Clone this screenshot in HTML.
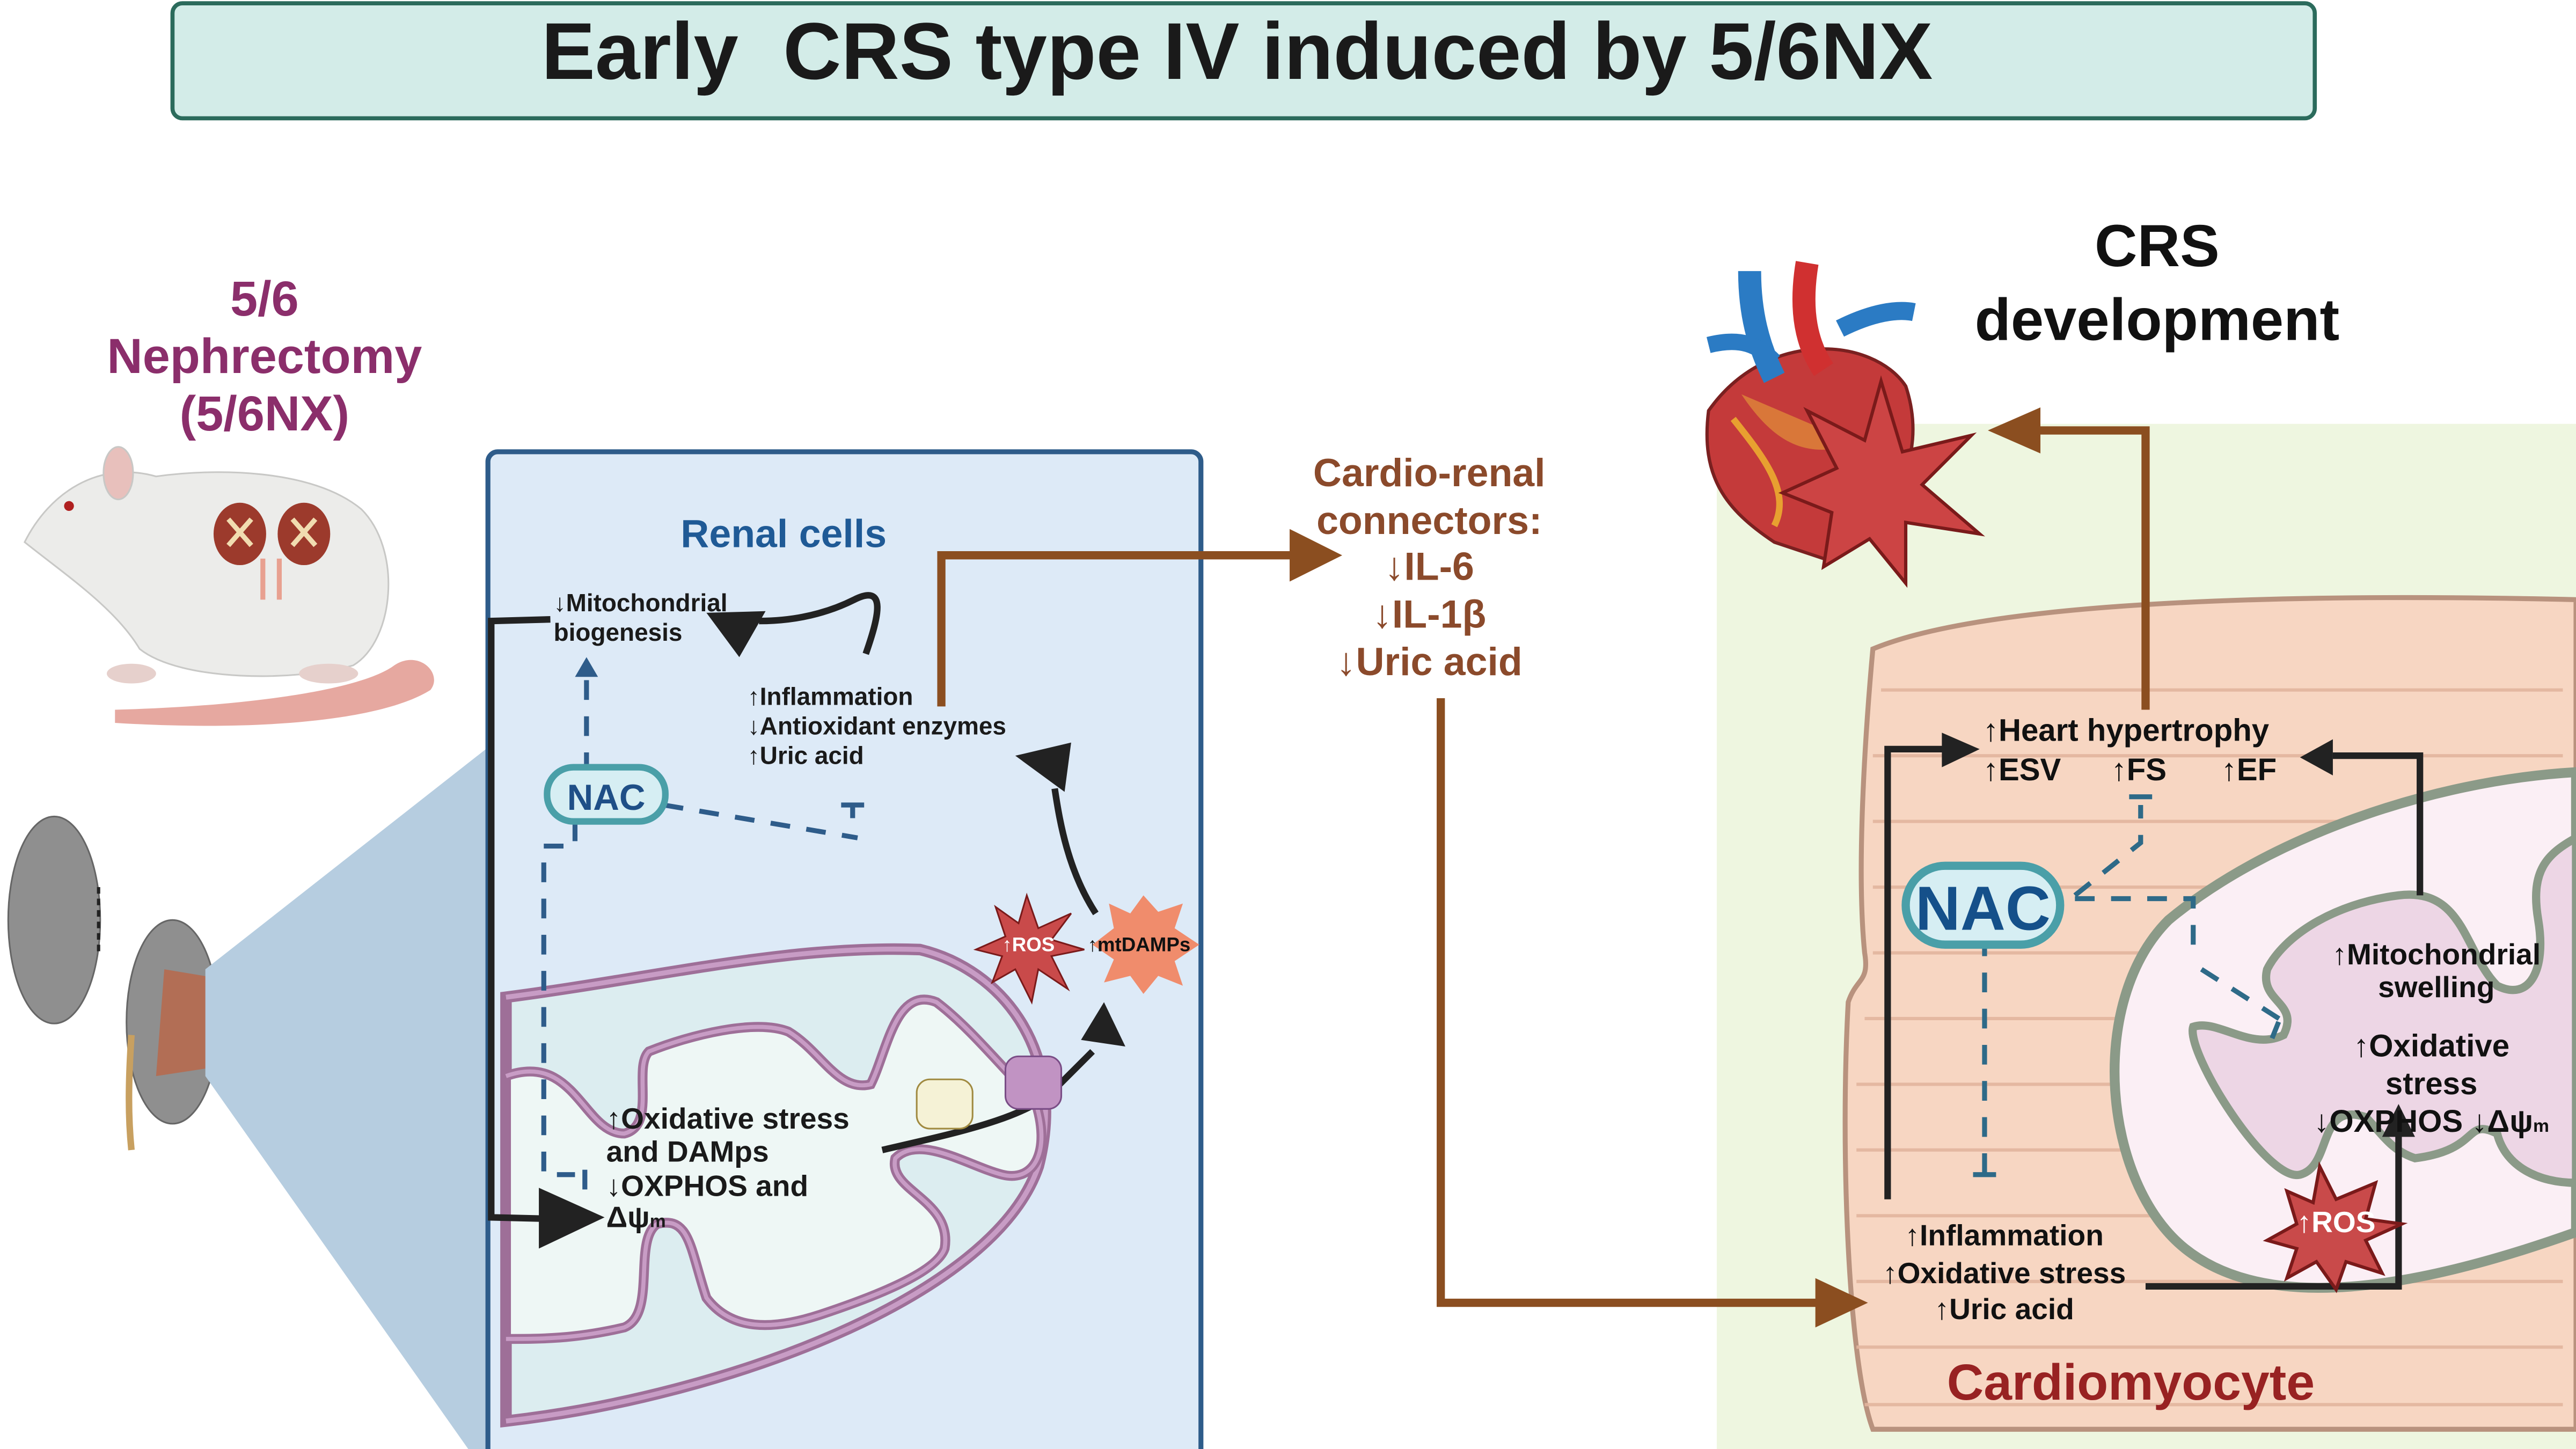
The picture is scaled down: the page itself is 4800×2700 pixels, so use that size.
<!DOCTYPE html>
<html><head><meta charset="utf-8"><style>
html,body{margin:0;padding:0;background:#fff;}
svg{display:block;}
text{font-family:"Liberation Sans",sans-serif;font-weight:bold;}
</style></head><body>
<svg width="4800" height="2700" viewBox="0 0 1568 882" preserveAspectRatio="none" xmlns="http://www.w3.org/2000/svg">
<rect width="1568" height="882" fill="#fff"/>
<!-- title -->
<rect x="105" y="2" width="1304" height="70" rx="6" fill="#d3ece8" stroke="#2b6b5c" stroke-width="2.5"/>
<text x="753" y="48" font-size="49" text-anchor="middle" fill="#1a1a1a" xml:space="preserve">Early  CRS type IV induced by 5/6NX</text>

<!-- left label -->
<g fill="#8b2e6b" font-size="30" text-anchor="middle">
<text x="161" y="192">5/6</text><text x="161" y="227">Nephrectomy</text><text x="161" y="262">(5/6NX)</text></g>

<!-- rat -->
<g>
<path d="M70,440 C150,445 230,440 262,420 C270,410 255,395 240,405 C220,420 150,430 70,432z" fill="#e6a8a0"/>
<path d="M15,330 C30,300 60,280 95,290 C130,285 190,285 220,310 C245,335 240,390 215,405 C180,415 110,415 85,395 C70,370 40,350 15,330z" fill="#ececea" stroke="#c8c8c6"/>
<ellipse cx="72" cy="288" rx="9" ry="16" fill="#e8c0bc" stroke="#c8c8c6"/>
<circle cx="42" cy="308" r="3" fill="#b02020"/>
<ellipse cx="146" cy="325" rx="16" ry="19" fill="#9c3a2c"/>
<ellipse cx="185" cy="325" rx="16" ry="19" fill="#9c3a2c"/>
<path d="M139,316l14,16M153,316l-14,16M178,316l14,16M192,316l-14,16" stroke="#f1dcb0" stroke-width="3"/>
<path d="M160,340v25M170,340v25" stroke="#e8a090" stroke-width="3"/>
<ellipse cx="80" cy="410" rx="15" ry="6" fill="#e6d0cc"/><ellipse cx="200" cy="410" rx="18" ry="6" fill="#e6d0cc"/>
</g>

<!-- kidneys -->
<ellipse cx="33" cy="560" rx="28" ry="63" fill="#8f8f8f" stroke="#666"/>
<ellipse cx="105" cy="622" rx="28" ry="62" fill="#8f8f8f" stroke="#666"/>
<path d="M100,590 L130,595 L128,650 L95,655z" fill="#c0603c" opacity="0.7"/>
<path d="M60,540v40" stroke="#222" stroke-width="2" stroke-dasharray="4 3"/>
<path d="M80,630 C78,660 78,680 80,700" stroke="#c8a060" stroke-width="4" fill="none"/>
<!-- wedge -->
<path d="M125,590 L297,455 L297,882 L285,882 L125,655z" fill="#b6cde0"/>

<!-- right background (drawn before connectors) -->
<rect x="1045" y="258" width="523" height="624" fill="#eef6e0"/>
<path d="M1140,395 C1200,370 1350,360 1568,365 V870 H1140 C1125,830 1120,700 1125,610 C1130,595 1138,598 1135,580 C1130,530 1135,450 1140,395z" fill="#f7d6c2" stroke="#b8927e" stroke-width="3"/>
<g stroke="#e3b59e" stroke-width="2" opacity="0.9">
<path d="M1145,420 H1560M1140,460 H1560M1140,500 H1560M1140,540 H1560M1140,580 H1560M1135,620 H1560M1130,660 H1560M1130,700 H1560M1130,740 H1560M1130,780 H1560M1130,820 H1560M1135,855 H1560"/></g>
<!-- right mito -->
<path d="M1568,470 C1480,475 1380,510 1320,560 C1270,610 1280,720 1330,760 C1380,800 1470,785 1568,750z" fill="#fbeff5" stroke="#8b9a88" stroke-width="6"/>
<path d="M1568,510 C1550,520 1540,530 1545,560 C1550,590 1540,610 1520,600 C1500,580 1500,540 1460,545 C1420,550 1390,570 1380,590 C1375,610 1400,610 1390,630 C1370,640 1350,620 1335,625 C1330,640 1380,720 1400,715 C1420,710 1410,670 1440,680 C1450,690 1455,700 1470,705 C1510,700 1500,680 1520,690 C1525,710 1545,720 1568,720z" fill="#edd6e5" stroke="#8b9a88" stroke-width="5"/>

<!-- renal box -->
<rect x="297" y="275" width="434" height="620" rx="6" fill="#ddeaf7" stroke="#2e5c8a" stroke-width="3"/>
<text x="477" y="333" font-size="24" fill="#1f5a96" text-anchor="middle">Renal cells</text>

<!-- mitochondrion renal -->
<path d="M308,607 C400,595 480,575 560,578 C610,590 650,640 632,710 C605,790 440,850 308,865z" fill="#dcedf0" stroke="#9e6f98" stroke-width="7"/>
<path d="M308,607 C400,595 480,575 560,578 C610,590 650,640 632,710 C605,790 440,850 308,865" fill="none" stroke="#c89cc5" stroke-width="3"/>
<path d="M308,655 C350,640 355,690 380,690 C400,685 385,650 395,640 C420,630 460,620 480,628 C500,640 510,665 530,660 C540,640 545,600 570,610 C590,625 610,650 630,670 C640,700 630,720 610,715 C590,710 560,690 545,705 C540,725 580,730 575,760 C570,775 530,790 500,800 C470,810 445,810 430,790 C420,760 420,740 400,745 C385,755 400,800 380,808 C350,815 330,815 308,815z" fill="#eef7f5" stroke="#9e6f98" stroke-width="6"/>
<path d="M308,655 C350,640 355,690 380,690 C400,685 385,650 395,640 C420,630 460,620 480,628 C500,640 510,665 530,660 C540,640 545,600 570,610 C590,625 610,650 630,670 C640,700 630,720 610,715 C590,710 560,690 545,705 C540,725 580,730 575,760 C570,775 530,790 500,800 C470,810 445,810 430,790 C420,760 420,740 400,745 C385,755 400,800 380,808 C350,815 330,815 308,815" fill="none" stroke="#c89cc5" stroke-width="2.5"/>
<path d="M537,700 C580,690 630,680 645,660 L665,640" stroke="#222" stroke-width="4" fill="none"/>
<path d="M658,633 L672,610 L685,637z" fill="#222"/>
<rect x="558" y="657" width="34" height="30" rx="8" fill="#f5f2d6" stroke="#a08a40"/>
<rect x="612" y="643" width="34" height="32" rx="8" fill="#c193c3" stroke="#7a4d86"/>
<g font-size="18" fill="#1a1a1a"><text x="369" y="687">↑Oxidative stress</text><text x="369" y="707">and DAMps</text><text x="369" y="728">↓OXPHOS and</text><text x="369" y="747">Δψ<tspan font-size="11">m</tspan></text></g>

<!-- renal arrows -->
<path d="M335,377 L299,378 L299,741 L340,742" stroke="#222" stroke-width="4" fill="none"/>
<path d="M328,723 L368,741 L328,760z" fill="#222"/>
<path d="M527,398 C535,375 540,355 520,365 C500,375 480,378 462,378" stroke="#222" stroke-width="4" fill="none"/>
<path d="M430,373 L466,372 L450,400z" fill="#222"/>
<path d="M667,556 C650,530 645,500 642,480" stroke="#222" stroke-width="4" fill="none"/>
<path d="M618,460 L652,452 L648,482z" fill="#222"/>
<g font-size="15" fill="#1a1a1a"><text x="337" y="372">↓Mitochondrial</text><text x="337" y="390">biogenesis</text>
<text x="455" y="429">↑Inflammation</text><text x="455" y="447">↓Antioxidant enzymes</text><text x="455" y="465">↑Uric acid</text></g>
<!-- NAC renal -->
<g stroke="#2e5c8a" stroke-width="3" fill="none" stroke-dasharray="12 10">
<path d="M357,470 V410"/><path d="M404,490 L522,510"/><path d="M350,500 V515 L331,515 V715 L350,715"/><path d="M356,712V730"/></g>
<path d="M357,400l-7,12h14z" fill="#2e5c8a"/>
<path d="M512,490h14M519,490v8" stroke="#2e5c8a" stroke-width="3"/>
<rect x="333" y="467" width="72" height="33" rx="16" fill="#d6eef3" stroke="#4a9fa8" stroke-width="4"/>
<text x="369" y="493" font-size="22" fill="#1f4f87" text-anchor="middle">NAC</text>
<!-- ROS/DAMPs -->
<path d="M625,545 L632,565 L652,556 L640,572 L660,578 L640,582 L650,602 L632,590 L628,610 L618,590 L604,598 L610,582 L594,578 L612,570 L606,552 L620,562z" fill="#c94a4a" stroke="#7a1a1a"/>
<text x="626" y="579" font-size="12" fill="#fff" text-anchor="middle">↑ROS</text>
<path d="M696,545 L705,555 L720,550 L715,565 L730,575 L715,585 L720,600 L705,594 L696,605 L688,594 L672,598 L678,584 L665,575 L678,565 L675,550 L688,556z" fill="#f08c6c"/>
<text x="662" y="579" font-size="12" fill="#111">↑mtDAMPs</text>

<!-- brown connectors -->
<g stroke="#8b4e20" stroke-width="5" fill="none">
<path d="M573,430 V338 H790"/><path d="M877,425 V793 H1110"/><path d="M1306,432 V262 H1240"/></g>
<path d="M785,322 L817,338 L785,354z" fill="#8b4e20"/>
<path d="M1105,778 L1137,793 L1105,808z" fill="#8b4e20"/>
<path d="M1242,248 L1210,262 L1242,276z" fill="#8b4e20"/>
<g font-size="24" fill="#8b4a2b" text-anchor="middle" font-weight="normal">
<text x="870" y="296">Cardio-renal</text><text x="870" y="325">connectors:</text><text x="870" y="353">↓IL-6</text><text x="870" y="382">↓IL-1β</text><text x="870" y="411">↓Uric acid</text></g>

<!-- heart -->
<g>
<path d="M1040,250 C1035,290 1050,310 1080,330 L1110,340 C1150,320 1175,280 1160,235 C1140,205 1075,200 1040,250z" fill="#c43a3a" stroke="#7a2020" stroke-width="2"/>
<path d="M1060,240 C1080,270 1100,280 1130,270" fill="#e8a038" opacity="0.6"/>
<path d="M1055,255 C1075,280 1090,300 1080,320" stroke="#e8a030" stroke-width="4" fill="none"/>
<path d="M1065,165 C1065,190 1070,210 1080,230" stroke="#2b7bc4" stroke-width="14" fill="none"/>
<path d="M1040,210 C1060,205 1070,210 1080,220" stroke="#2b7bc4" stroke-width="10" fill="none"/>
<path d="M1100,160 C1095,190 1100,210 1110,225" stroke="#d03030" stroke-width="14" fill="none"/>
<path d="M1120,200 C1140,190 1155,188 1165,190" stroke="#2b7bc4" stroke-width="11" fill="none"/>
<path d="M1145,232 L1158,275 L1200,265 L1170,295 L1205,325 L1160,318 L1160,355 L1138,328 L1110,345 L1115,312 L1085,300 L1118,285 L1100,250 L1135,268z" fill="#cc4444" stroke="#7a1a1a" stroke-width="2"/>
</g>
<g font-size="36" text-anchor="middle" fill="#111"><text x="1313" y="162">CRS</text><text x="1313" y="207">development</text></g>

<!-- right arrows -->
<g stroke="#222" stroke-width="4" fill="none">
<path d="M1149,730 V456 H1185"/><path d="M1473,545 V460 H1420"/><path d="M1306,783 H1460 V690"/></g>
<path d="M1182,446 L1205,456 L1182,467z" fill="#222"/>
<path d="M1420,450 L1400,461 L1420,472z" fill="#222"/>
<path d="M1450,692 L1460,672 L1470,692z" fill="#222"/>
<!-- NAC right dashed -->
<g stroke="#2e6a88" stroke-width="3" fill="none" stroke-dasharray="12 10">
<path d="M1263,545 L1303,513 V490"/><path d="M1263,547 H1335 V580"/><path d="M1340,590 L1395,625"/><path d="M1208,570 V715"/></g>
<path d="M1296,485h14M1201,715h14M1387,622l-4,10" stroke="#2e6a88" stroke-width="3"/>
<rect x="1160" y="527" width="94" height="48" rx="24" fill="#d6eef3" stroke="#4a9fa8" stroke-width="5"/>
<text x="1207" y="566" font-size="38" fill="#15508a" text-anchor="middle">NAC</text>
<!-- ROS right -->
<path d="M1412,710 L1422,730 L1446,720 L1440,742 L1462,745 L1440,755 L1450,775 L1428,768 L1422,785 L1410,768 L1392,778 L1398,760 L1380,755 L1398,745 L1392,725 L1408,732z" fill="#c94a4a" stroke="#7a1a1a" stroke-width="2"/>
<text x="1422" y="750" font-size="18" fill="#fff" text-anchor="middle">↑ROS</text>
<!-- right texts -->
<g font-size="19" fill="#111">
<text x="1207" y="451">↑Heart hypertrophy</text>
<text x="1207" y="475">↑ESV</text><text x="1285" y="475">↑FS</text><text x="1352" y="475">↑EF</text>
</g>
<g font-size="18" fill="#111" text-anchor="middle">
<text x="1483" y="587">↑Mitochondrial</text><text x="1483" y="607">swelling</text>
<text x="1480" y="643" font-size="19">↑Oxidative</text><text x="1480" y="666" font-size="19">stress</text>
<text x="1480" y="689" font-size="19">↓OXPHOS ↓Δψ<tspan font-size="11">m</tspan></text>
<text x="1220" y="758">↑Inflammation</text><text x="1220" y="781">↑Oxidative stress</text><text x="1220" y="803">↑Uric acid</text>
</g>
<text x="1297" y="852" font-size="31" fill="#982222" text-anchor="middle">Cardiomyocyte</text>
</svg>
</body></html>
